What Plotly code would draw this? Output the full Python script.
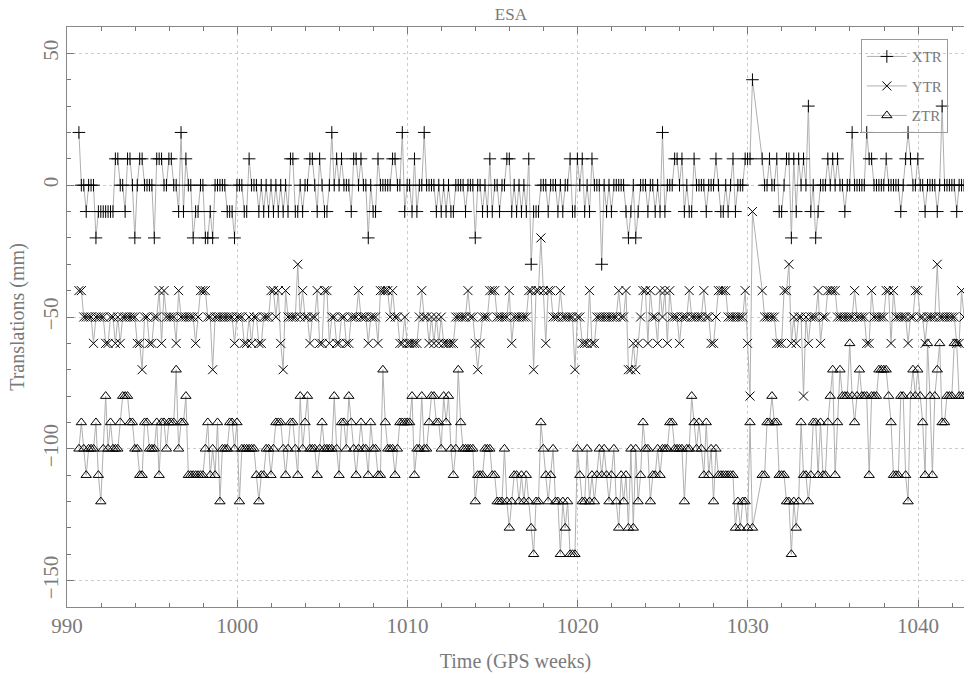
import numpy as np
import plotly.graph_objects as go

# Daily ESA translation estimates (mm), one value per day starting in GPS week 990
first_week = 990.7
xtr = [
    20, 0, 0, -10, 0, 0, 0, -20, -10, -10, -10, -10, -10, -10,
    -10, 10, 10, 0, 0, -10, 10, 10, 0, -20, 0, 10, 10, 0,
    0, 0, 0, -20, 10, 10, 10, 0, 0, 10, 10, 0, 0, -10,
    20, -10, 10, 0, 0, -20, -10, -10, 0, 0, -20, -20, -10, -20,
    0, 0, 0, 0, 0, -10, -10, -10, -20, 0, 0, 0, -10, -10,
    10, 0, 0, 0, -10, 0, -10, 0, -10, 0, -10, 0, -10, 0,
    -10, 0, -10, 10,
    10, -10, -10, 0, -10, 0, 0, 10, 10, 0, -10, 10, 0, -10,
    -10, 0, 20, 0, 10, 0, 10, 0, 0, 0, -10, 10, 10, 0,
    10, 0, 0, -20, 0, -10, -10, 10, 0, 0, 0, 0, 0, 10,
    10, 0, 0, 20, -10, 0, 0, -10, 10, -10, 0, 0, 20, 0,
    0, 0, 0, -10, 0, -10, 0, -10, 0, -10, -10, 0, 0, 0,
    0, -10, 0, 0, 0, -20, 0, 0, -10, 0, -10, 10, -10, 0,
    0, -10, 0, 0, 10, 10, -10, 0,
    -10, 0, -10, 0, -10, 10, -30, -10, -10, -10, 0, 0, 0, -10,
    0, 0, 0, -10, 0, -10, 0, 0, 10, -10, -10, 10, 0, 10,
    -10, 0, -10, 10, 0, 0, 0, -30, 0, -10, 0, -10, 0, 0,
    0, 0, 0, -10, -20, -10, 0, -20, -10, 0, 0, 0, -10, 0,
    0, -10, 0, -10, 20, -10, 0, 0, 0, 10, 10, 0, 10, -10,
    0, -10, -10, 10, 0, 0, 0, 0, -10, 0, 0, 0, 10, 0,
    -10, -10, 0, -10, 0, 10, -10, 0,
    0, 0, 10, 10, 10, 40,
    None, None, None,
    10, 0, 0, 10, 0, 0, 10, -10, -10, 0, 10, 10, -20, 10,
    -10, 10, 0, 10, 0, 30, -10, 0, -20, -10, 0, 0, 0, 10,
    0, 10, 0, 10, 0, 0, -10, 0, 0, 20, 0, 0, 0, 0,
    0, 20, 10, 10, 0, 0, 0, 0, 0, 10, 0, 0, 0, 0,
    0, -10, 0, 10, 20, 10, 0, 0, 10, 0, 0, -10, 0, 0,
    0, 0, -10, 0, 30, 0, 0, 0, 0, 0, -10, 0, 0, 0,
]
ytr = [
    -40, -40, -50, -50, -50, -50, -60, -50, -50, -50, -50, -60, -60, -50,
    -50, -60, -50, -60, -50, -50, -50, -50, -50, -50, -60, -60, -70, -50,
    -50, -60, -60, -50, -50, -40, -60, -40, -50, -50, -50, -50, -60, -40,
    -50, -50, -50, -50, -50, -50, -60, -50, -40, -40, -40, -50, -50, -70,
    -50, -50, -50, -50, -50, -50, -50, -50, -60, -50, -50, -50, -60, -60,
    -50, -60, -50, -50, -60, -60, -50, -50, -50, -40, -40, -50, -40, -60,
    -70, -40, -50, -50,
    -50, -50, -30, -50, -40, -50, -50, -60, -50, -50, -40, -60, -60, -40,
    -40, -60, -50, -50, -60, -60, -50, -50, -60, -60, -50, -50, -50, -40,
    -50, -50, -50, -60, -50, -50, -50, -60, -40, -40, -40, -40, -50, -40,
    -50, -50, -60, -60, -50, -60, -60, -60, -60, -60, -50, -40, -50, -50,
    -60, -50, -60, -50, -60, -50, -60, -60, -60, -60, -60, -50, -50, -50,
    -50, -50, -40, -50, -50, -60, -70, -60, -50, -50, -50, -40, -40, -40,
    -50, -50, -50, -50, -50, -40, -60, -50,
    -50, -50, -50, -50, -50, -40, -40, -70, -40, -40, -20, -40, -60, -40,
    -40, -50, -50, -50, -40, -50, -50, -50, -50, -50, -70, -50, -50, -60,
    -60, -60, -40, -60, -60, -50, -50, -50, -50, -50, -50, -50, -50, -50,
    -40, -50, -50, -40, -70, -70, -60, -70, -60, -50, -40, -40, -60, -40,
    -50, -50, -60, -40, -50, -40, -60, -40, -50, -50, -50, -60, -50, -50,
    -50, -40, -50, -50, -50, -50, -50, -40, -50, -50, -60, -60, -50, -40,
    -40, -40, -40, -50, -50, -50, -50, -50,
    -50, -50, -40, -60, -80, -10,
    None, None, None,
    -40, -50, -50, -50, -50, -50, -60, -60, -60, -40, -40, -30, -60, -50,
    -60, -50, -50, -80, -50, -60, -50, -50, -50, -40, -60, -50, -50, -40,
    -40, -40, -40, -50, -50, -50, -50, -50, -50, -50, -40, -50, -50, -50,
    -50, -60, -60, -40, -50, -50, -50, -50, -50, -40, -40, -60, -40, -50,
    -50, -50, -50, -50, -60, -50, -50, -40, -40, -50, -50, -60, -50, -50,
    -50, -50, -30, -50, -50, -50, -50, -50, -50, -50, -60, -60, -40, -50,
]
ztr = [
    -100, -90, -100, -110, -100, -100, -100, -90, -110, -120, -100, -80, -100, -90,
    -100, -100, -100, -90, -80, -80, -80, -90, -90, -100, -100, -110, -110, -90,
    -90, -100, -100, -100, -90, -110, -90, -90, -100, -90, -90, -90, -70, -100,
    -90, -90, -80, -110, -110, -110, -110, -110, -110, -110, -100, -90, -110, -100,
    -110, -90, -120, -100, -100, -100, -90, -90, -100, -90, -120, -100, -100, -100,
    -100, -100, -100, -110, -120, -110, -110, -100, -100, -110, -100, -90, -90, -90,
    -100, -110, -100, -90,
    -90, -100, -110, -80, -100, -90, -80, -100, -100, -100, -110, -100, -90, -100,
    -100, -100, -100, -80, -100, -110, -90, -90, -100, -80, -90, -100, -110, -100,
    -90, -100, -100, -110, -90, -100, -100, -110, -110, -70, -90, -100, -100, -100,
    -110, -100, -90, -90, -90, -90, -90, -80, -110, -100, -100, -80, -100, -100,
    -90, -80, -80, -90, -90, -100, -80, -90, -80, -100, -110, -100, -70, -90,
    -100, -100, -100, -100, -100, -120, -110, -110, -110, -100, -100, -100, -110, -110,
    -120, -120, -120, -100, -120, -130, -120, -110,
    -110, -120, -110, -120, -110, -120, -130, -140, -120, -120, -90, -100, -110, -120,
    -110, -100, -120, -120, -140, -120, -130, -120, -140, -140, -140, -100, -110, -120,
    -120, -100, -120, -110, -120, -110, -100, -110, -100, -110, -120, -110, -100, -120,
    -130, -110, -120, -110, -130, -100, -130, -100, -120, -110, -90, -100, -100, -120,
    -110, -110, -100, -110, -100, -100, -100, -90, -90, -100, -100, -100, -100, -120,
    -100, -100, -80, -90, -100, -90, -100, -110, -90, -110, -100, -120, -100, -110,
    -110, -110, -110, -110, -110, -110, -130, -120,
    -130, -120, -120, -130, -90, -130,
    None, None, None,
    -110, -110, -90, -90, -80, -90, -90, -110, -110, -110, -120, -120, -140, -120,
    -130, -120, -90, -110, -110, -120, -110, -90, -90, -110, -90, -110, -110, -90,
    -80, -70, -110, -90, -70, -80, -80, -80, -60, -80, -90, -80, -70, -80,
    -80, -80, -110, -80, -80, -80, -70, -70, -70, -70, -80, -90, -110, -110,
    -110, -80, -80, -110, -120, -80, -70, -80, -70, -80, -90, -110, -60, -80,
    -110, -80, -70, -60, -90, -90, -80, -80, -80, -60, -60, -80, -80, -80,
]

series = [
    ("XTR", xtr, "cross-thin"),
    ("YTR", ytr, "x-thin"),
    ("ZTR", ztr, "triangle-up-open"),
]

text_grey = "#7a7a7a"
serif = "Liberation Serif"

fig = go.Figure()
for name, values, symbol in series:
    weeks = first_week + np.arange(len(values)) / 7.0
    fig.add_trace(go.Scatter(
        x=weeks, y=values, name=name, legendgroup=name,
        mode="lines+markers", connectgaps=True,
        line=dict(color="#b0b0b0", width=1),
        marker=dict(symbol=symbol, size=9, color="black",
                    line=dict(color="black", width=1)),
    ))

axis_common = dict(
    ticks="inside", ticklen=7, tickcolor="#777", tickwidth=1,
    showline=True, linecolor="#888", linewidth=1,
    showgrid=True, gridcolor="#cccccc", griddash="dot", gridwidth=1,
    zeroline=False,
    tickfont=dict(family=serif, size=21, color=text_grey),
    title_font=dict(family=serif, size=20, color=text_grey),
)

fig.update_layout(
    width=964, height=673,
    margin=dict(l=67, r=0, t=27, b=66),
    paper_bgcolor="white", plot_bgcolor="white",
    title=dict(text="ESA", x=0.53, xanchor="center", y=0.988, yanchor="top",
               font=dict(family=serif, size=17, color=text_grey)),
    showlegend=True,
    legend=dict(x=0.885, y=0.979, xanchor="left", yanchor="top",
                bordercolor="#999", borderwidth=1, bgcolor="rgba(255,255,255,0)",
                tracegroupgap=7, traceorder="grouped", itemwidth=40,
                font=dict(family=serif, size=15, color=text_grey)),
    xaxis=dict(range=[990, 1042.7], tick0=990, dtick=10, mirror="allticks",
               minor=dict(dtick=2, ticks="inside", ticklen=4, tickcolor="#777", showgrid=False),
               title=dict(text="Time (GPS weeks)", standoff=16),
               **axis_common),
    yaxis=dict(range=[-160, 60], tick0=0, dtick=50, mirror=False, tickangle=-90,
               minor=dict(dtick=10, ticks="inside", ticklen=4, tickcolor="#777", showgrid=False),
               title=dict(text="Translations (mm)", standoff=8),
               **axis_common),
)

fig.write_html("out.html")
